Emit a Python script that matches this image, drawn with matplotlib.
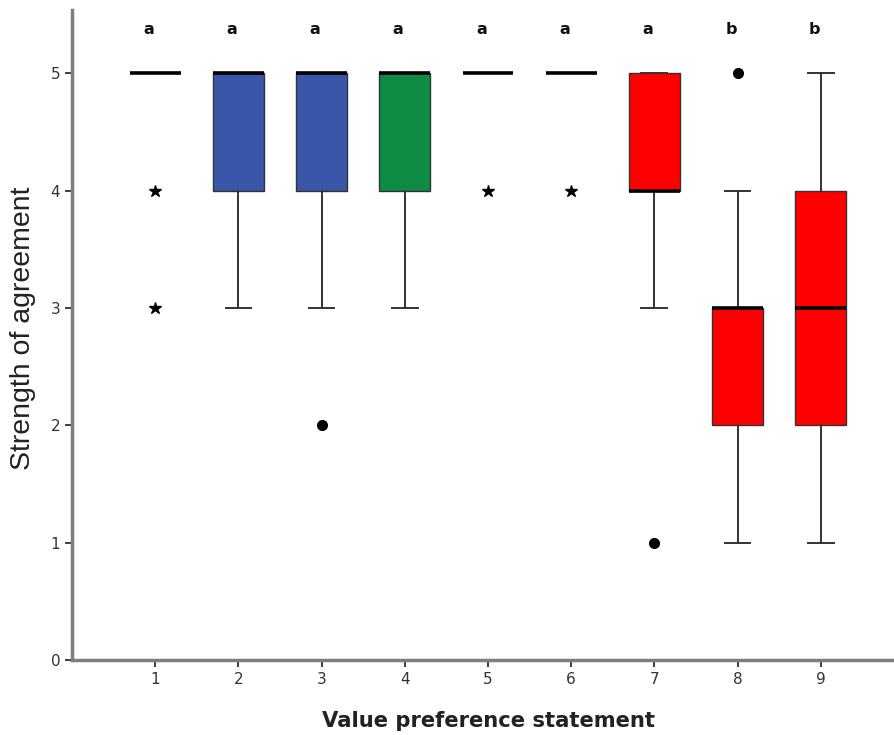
import matplotlib
matplotlib.use("Agg")
import matplotlib.pyplot as plt

statements = [1, 2, 3, 4, 5, 6, 7, 8, 9]
q1 = [5, 4, 4, 4, 5, 5, 4, 2, 2]
med = [5, 5, 5, 5, 5, 5, 4, 3, 3]
q3 = [5, 5, 5, 5, 5, 5, 5, 3, 4]
whislo = [5, 3, 3, 3, 5, 5, 3, 1, 1]
whishi = [5, 5, 5, 5, 5, 5, 5, 4, 5]
outliers = [[], [], [2], [], [], [], [1], [5], []]
extremes = [[4, 3], [], [], [], [4], [4], [], [], []]
colors = ["#ffffff", "#3a56a8", "#3a56a8", "#0e8c45", "#ffffff", "#ffffff",
          "#ff0000", "#ff0000", "#ff0000"]
letters = ["a", "a", "a", "a", "a", "a", "a", "b", "b"]

fig = plt.figure(figsize=(8.94, 7.35), dpi=100)
ax = fig.add_axes([72/894, 75/735, 1 - 72/894, (660-10)/735])

stats = []
for i in range(len(statements)):
    stats.append(dict(med=med[i], q1=q1[i], q3=q3[i], whislo=whislo[i],
                      whishi=whishi[i], fliers=outliers[i], label=str(statements[i])))

bp = ax.bxp(stats, positions=statements, widths=0.61, patch_artist=True,
            showcaps=True,
            boxprops=dict(edgecolor="#333333", linewidth=1.0),
            medianprops=dict(color="black", linewidth=2.6, solid_capstyle="butt"),
            whiskerprops=dict(color="#333333", linewidth=1.4),
            capprops=dict(color="#333333", linewidth=1.4),
            flierprops=dict(marker="o", markerfacecolor="black", markeredgecolor="black",
                            markersize=7))
for patch, c, lo, hi in zip(bp["boxes"], colors, q1, q3):
    patch.set_facecolor(c)
    if lo == hi:
        patch.set_edgecolor("none")
for i, cap in enumerate(bp["caps"]):
    b = i // 2
    if q1[b] == q3[b]:
        cap.set_visible(False)
    else:
        x = cap.get_xdata()
        xc = (x[0] + x[1]) / 2
        cap.set_xdata([xc - 0.155, xc + 0.155])

for x, ext in zip(statements, extremes):
    if ext:
        ax.plot([x] * len(ext), ext, linestyle="none", marker="*", color="black",
                markersize=9)

for x, t in zip(statements, letters):
    ax.text(x - 0.08, 5.37, t, ha="center", va="center", fontsize=11.5,
            fontweight="bold", family="DejaVu Sans", color="#111111")

ax.set_xlim(0, 9.88)
ax.set_ylim(0, 5.54)
ax.set_yticks([0, 1, 2, 3, 4, 5])
ax.set_xticks(statements)
ax.set_xticklabels([str(s) for s in statements])
for s in ["top", "right"]:
    ax.spines[s].set_visible(False)
for s in ["left", "bottom"]:
    ax.spines[s].set_color("#7f7f7f")
    ax.spines[s].set_linewidth(2.5)
ax.tick_params(axis="both", colors="#444444", labelcolor="#333333", labelsize=11,
               length=5, width=1.5)
ax.set_xlabel("Value preference statement", fontsize=15.2, fontweight="bold",
              color="#222222", family="DejaVu Sans")
ax.set_ylabel("Strength of agreement", fontsize=20.5, color="#222222",
              family="Liberation Sans")
ax.xaxis.set_label_coords((489 - 72) / 822, -51 / 650)
ax.yaxis.set_label_coords((36 - 72) / 822, (660 - 328) / 650)

fig.savefig("out.png", dpi=100)
